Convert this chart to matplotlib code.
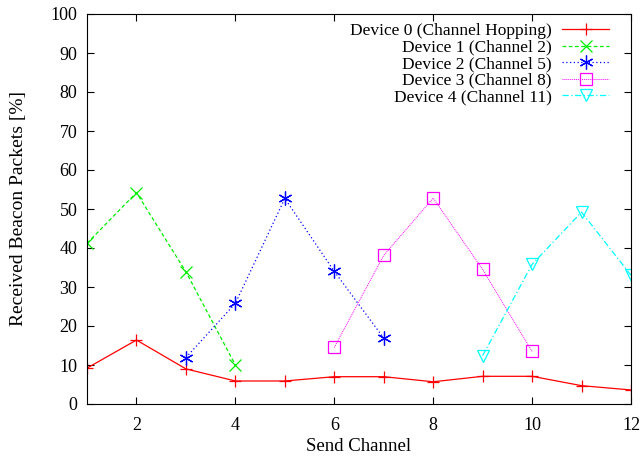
import numpy as np
import matplotlib
matplotlib.use("Agg")
import matplotlib.pyplot as plt

plt.rcParams['font.family'] = ['Liberation Serif', 'DejaVu Serif']

# data
ch0 = [1, 2, 3, 4, 5, 6, 7, 8, 9, 10, 11, 12]
dev0 = [9.2, 16.4, 9.0, 5.9, 5.9, 7.0, 7.0, 5.7, 7.1, 7.1, 4.7, 3.6]
ch1 = [1, 2, 3, 4]
dev1 = [41.2, 54.2, 33.9, 10.0]
ch2 = [3, 4, 5, 6, 7]
dev2 = [11.9, 25.8, 52.7, 34.0, 16.9]
ch3 = [6, 7, 8, 9, 10]
dev3 = [14.5, 38.1, 52.8, 34.5, 13.5]
ch4 = [9, 10, 11, 12]
dev4 = [12.4, 35.8, 49.2, 33.0]

labels = ["Device 0 (Channel Hopping)", "Device 1 (Channel 2)", "Device 2 (Channel 5)",
          "Device 3 (Channel 8)", "Device 4 (Channel 11)"]

fig = plt.figure(figsize=(6.41, 4.57), dpi=100)
ax = fig.add_axes([87/641, 1-404/457, (631-87)/641, (404-14)/457])

lw = 0.9
ax.plot(ch0, dev0, color='red', ls='-', lw=lw, marker='+', ms=9, mew=0.9, label=labels[0])
ax.plot(ch1, dev1, color='#00ee00', ls=(0, (3, 2)), lw=lw, marker='x', ms=8, mew=0.9, label=labels[1])
ax.plot(ch2, dev2, color='blue', ls=(0, (1, 2)), lw=lw, marker=(6, 2, 0), ms=10, mew=0.9, label=labels[2])
ax.plot(ch3, dev3, color='magenta', ls=(0, (1, 1)), lw=0.7, marker='s', ms=9, mfc='none', mew=0.9, label=labels[3])
ax.plot(ch4, dev4, color='cyan', ls=(0, (5, 2, 1, 2)), lw=lw, marker='v', ms=9, mfc='none', mew=0.9, label=labels[4])

ax.set_xlim(1, 12)
ax.set_ylim(0, 100)
ax.set_xticks([2, 4, 6, 8, 10, 12])
ax.set_yticks(np.arange(0, 101, 10))
ax.tick_params(direction='in', top=True, right=True, labelsize=13, length=5, width=0.8)
ax.tick_params(axis='x', pad=9)
ax.tick_params(axis='y', pad=7)
ax.set_xlabel("Send Channel", fontsize=13.5, labelpad=3)
ax.set_ylabel("Received Beacon Packets [%]", fontsize=14, labelpad=17)

leg = ax.legend(loc='upper right', bbox_to_anchor=((609 - 87) / 544, (404 - 23) / 390),
                frameon=False, markerfirst=False, fontsize=12.5,
                handlelength=2.7, labelspacing=0.02, borderaxespad=0, borderpad=0,
                handletextpad=0.6)
for t in leg.get_texts():
    t.set_ha('right')
leg._legend_box.align = 'right'

fig.savefig("out.png", dpi=100)
